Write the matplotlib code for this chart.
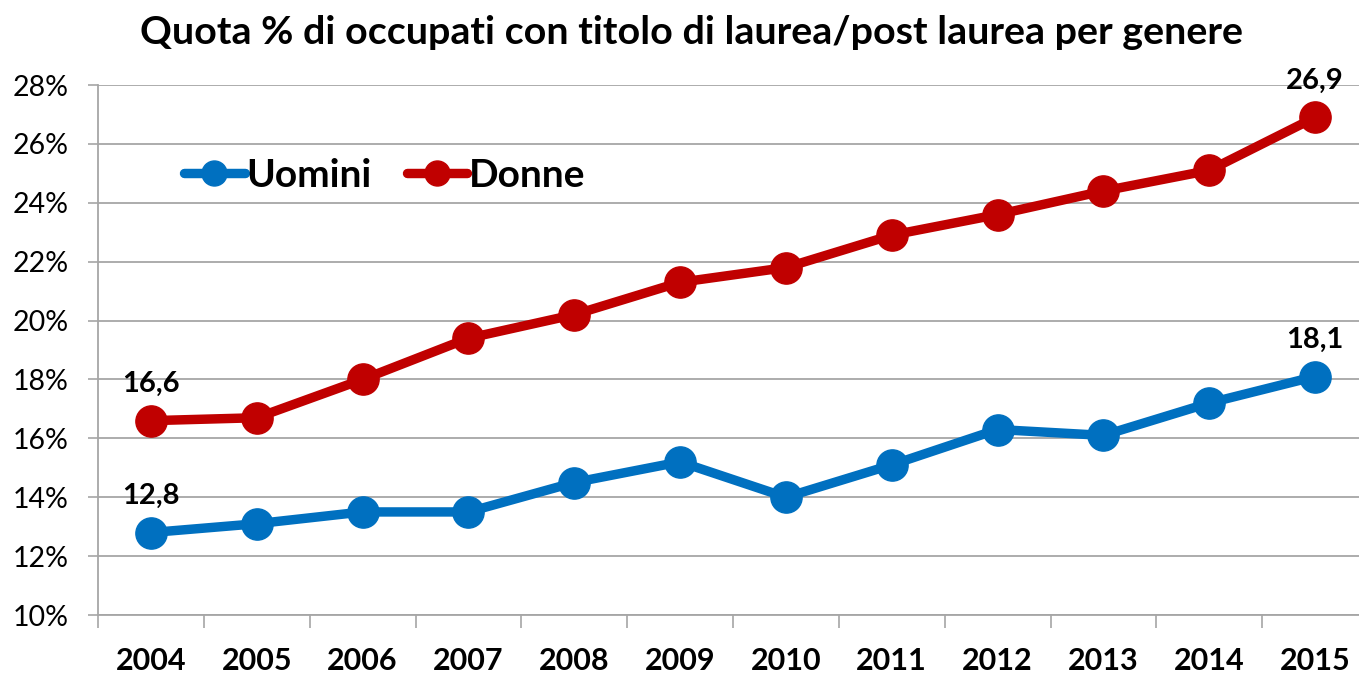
import matplotlib
matplotlib.use("Agg")
import matplotlib.pyplot as plt
from matplotlib.ticker import FixedLocator, FuncFormatter

plt.rcParams['font.family'] = ['Lato', 'DejaVu Sans']

years = ["2004", "2005", "2006", "2007", "2008", "2009",
         "2010", "2011", "2012", "2013", "2014", "2015"]
uomini = [12.8, 13.1, 13.5, 13.5, 14.5, 15.2, 14.0, 15.1, 16.3, 16.1, 17.2, 18.1]
donne = [16.6, 16.7, 18.0, 19.4, 20.2, 21.3, 21.8, 22.9, 23.6, 24.4, 25.1, 26.9]
y_ticks = [10, 12, 14, 16, 18, 20, 22, 24, 26, 28]
title = "Quota % di occupati con titolo di laurea/post laurea per genere"

BLUE = "#0070C0"
RED = "#C00000"
GRID = "#A6A6A6"

fig = plt.figure(figsize=(13.59, 6.75), dpi=100)
ax = fig.add_axes([98 / 1359, 60 / 675, 1270 / 1359, 530 / 675])

x = list(range(len(years)))
ax.plot(x, uomini, color=BLUE, lw=6.8, marker="o", ms=22.5, label="Uomini",
        solid_capstyle="round", zorder=3)
ax.plot(x, donne, color=RED, lw=6.8, marker="o", ms=22.5, label="Donne",
        solid_capstyle="round", zorder=3)

ax.set_xlim(-0.5, len(years) - 0.5)
ax.set_ylim(10, 28)

ax.yaxis.set_major_locator(FixedLocator(y_ticks))
ax.yaxis.set_major_formatter(FuncFormatter(lambda v, p: f"{v:.0f}%"))
ax.tick_params(axis="y", length=7, width=1.2, color=GRID, pad=14,
               labelsize=20.5)
ax.grid(axis="y", color=GRID, lw=1.3, zorder=0)

ax.set_xticks(x)
ax.set_xticklabels(years, fontweight="bold")
ax.xaxis.set_minor_locator(FixedLocator([i - 0.5 for i in range(len(years) + 1)]))
ax.tick_params(axis="x", which="major", length=0, pad=23, labelsize=22)
ax.tick_params(axis="x", which="minor", length=9.5, width=1.2, color=GRID)

for s in ("top", "right"):
    ax.spines[s].set_visible(False)
for s in ("left", "bottom"):
    ax.spines[s].set_color(GRID)
    ax.spines[s].set_linewidth(1.3)

def fmt(v):
    return f"{v:.1f}".replace(".", ",")

label_kw = dict(ha="center", va="bottom", fontsize=21, fontweight="bold",
                textcoords="offset points")
ax.annotate(fmt(donne[0]), (0, donne[0]), xytext=(0, 17), **label_kw)
ax.annotate(fmt(uomini[0]), (0, uomini[0]), xytext=(0, 17), **label_kw)
ax.annotate(fmt(donne[-1]), (11, donne[-1]), xytext=(0, 17), **label_kw)
ax.annotate(fmt(uomini[-1]), (11, uomini[-1]), xytext=(0, 17), **label_kw)

leg = ax.legend(loc="center left", bbox_to_anchor=(0.068, 0.83), ncol=2,
                frameon=False, prop=dict(size=28, weight="bold"),
                handlelength=1.55, handletextpad=0.05, columnspacing=0.9,
                borderpad=0, borderaxespad=0, markerscale=0.8)

fig.text(692 / 1359, 1 - 33 / 675, title, ha="center", va="center",
         fontsize=28.4, fontweight="bold")

fig.savefig("out.png", dpi=100)
